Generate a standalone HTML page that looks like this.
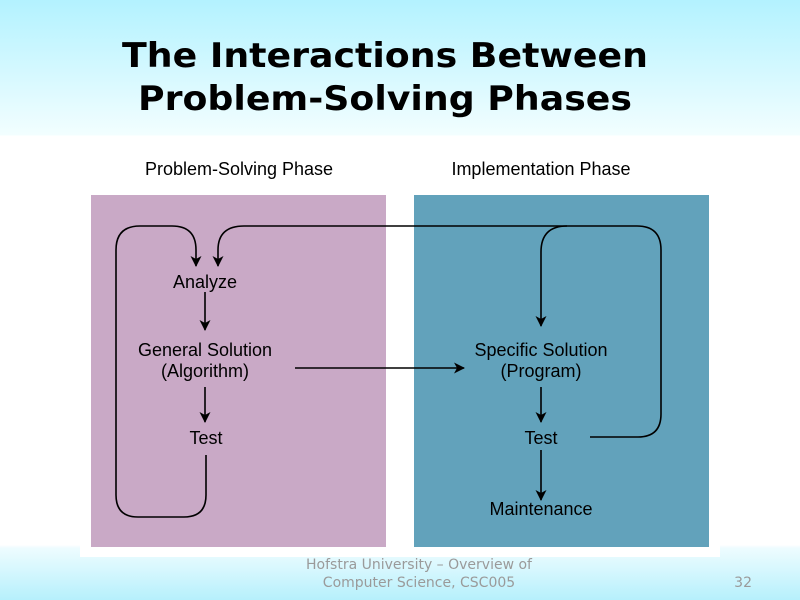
<!DOCTYPE html>
<html><head><style>
body{margin:0;width:800px;height:600px;overflow:hidden;font-family:"DejaVu Sans",sans-serif;}
.bg{position:absolute;left:0;top:0;width:800px;height:600px;background:linear-gradient(#b3f2ff 0px,#f2feff 135px,#fff 136px,#fff 545px,#eefcff 548px,#b6f0fc 600px);}
</style></head><body>
<div class="bg"></div>
<svg width="800" height="600" style="position:absolute;left:0;top:0" font-family="Liberation Sans, Arial, sans-serif">
<defs><marker id="a" markerWidth="11" markerHeight="12" refX="10" refY="5.5" orient="auto" markerUnits="userSpaceOnUse"><path d="M0,0 L11,5.5 L0,11 L3,5.5 z" fill="#000"/></marker></defs>
<text x="385" y="67" font-family="DejaVu Sans" font-weight="bold" font-size="34" text-anchor="middle" textLength="526" lengthAdjust="spacingAndGlyphs">The Interactions Between</text>
<text x="385" y="110" font-family="DejaVu Sans" font-weight="bold" font-size="34" text-anchor="middle" textLength="494" lengthAdjust="spacingAndGlyphs">Problem-Solving Phases</text>
<rect x="80" y="138" width="640" height="419" fill="#fff"/>
<rect x="91" y="195" width="295" height="352" fill="#c9a9c6"/>
<rect x="414" y="195" width="295" height="352" fill="#62a2bb"/>
<g font-size="18" text-anchor="middle">
<text x="239" y="175">Problem-Solving Phase</text>
<text x="541" y="175">Implementation Phase</text>
<text x="205" y="288">Analyze</text>
<text x="205" y="356">General Solution</text>
<text x="205" y="377">(Algorithm)</text>
<text x="206" y="444">Test</text>
<text x="541" y="356">Specific Solution</text>
<text x="541" y="377">(Program)</text>
<text x="541" y="444">Test</text>
<text x="541" y="515">Maintenance</text>
</g>
<g fill="none" stroke="#000" stroke-width="1.6">
<path d="M205,292 V330" marker-end="url(#a)"/>
<path d="M205,387 V422" marker-end="url(#a)"/>
<path d="M295,368 H464" marker-end="url(#a)"/>
<path d="M541,387 V422" marker-end="url(#a)"/>
<path d="M541,450 V500" marker-end="url(#a)"/>
<path d="M206,455 V495 Q206,517 184,517 H138 Q116,517 116,495 V250 Q116,226 140,226 H172 Q196,226 196,250 V266" marker-end="url(#a)"/>
<path d="M590,437 H638 Q661,437 661,414 V250 Q661,226 637,226 H244 Q218,226 218,250 V266" marker-end="url(#a)"/>
<path d="M567,226 Q541,226 541,252 V326" marker-end="url(#a)"/>
</g>
<text x="419" y="569" font-family="DejaVu Sans" font-size="14" fill="#9a9a9a" text-anchor="middle">Hofstra University – Overview of</text>
<text x="419" y="587" font-family="DejaVu Sans" font-size="14" fill="#9a9a9a" text-anchor="middle">Computer Science, CSC005</text>
<text x="752" y="587" font-family="DejaVu Sans" font-size="14" fill="#9a9a9a" text-anchor="end">32</text>
</svg>
</body></html>
